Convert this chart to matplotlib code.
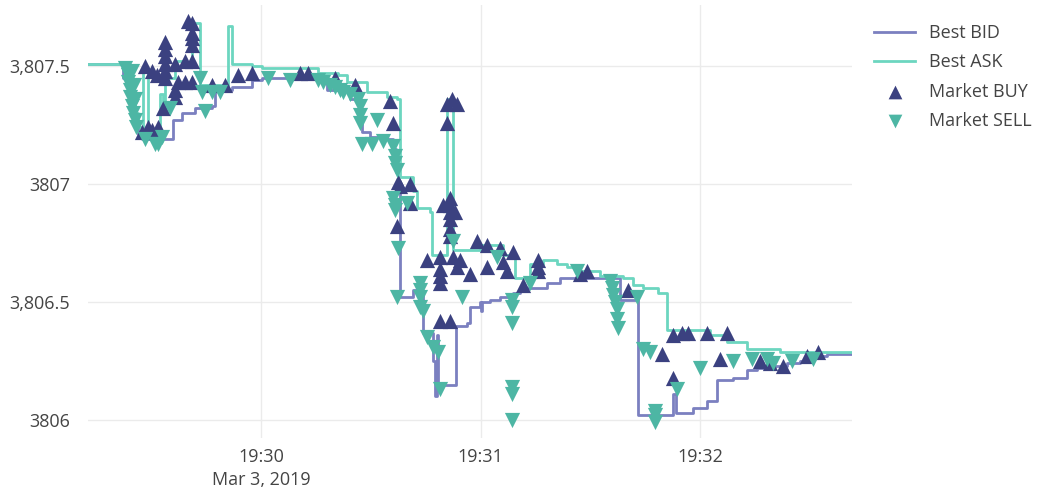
import numpy as np
import pandas as pd
import matplotlib
matplotlib.use('Agg')
import matplotlib.pyplot as plt

# times are seconds after 2019-03-03 19:29:00
base = pd.Timestamp('2019-03-03 19:29:00')

bid_t = [12.7, 22.3, 23.6, 24.2, 25.0, 25.6, 26.4, 27.5, 35.9, 38.4, 42.0, 46.6, 47.4,
         52.1, 57.5, 60.3, 70.1, 76.9, 78.0, 84.3, 87.1, 87.6, 89.8, 94.4, 96.1, 97.0,
         97.4, 98.0, 101.5, 104.3, 107.0, 107.6, 108.1, 108.4, 109.5, 113.3, 116.3, 117.1,
         119.8, 120.0, 120.5, 122.6, 125.3, 128.9, 130.8, 138.2, 141.7, 158.1, 163.1,
         172.6, 173.5, 178.1, 181.9, 184.6, 189.0, 192.8, 195.6, 198.3, 203.8, 207.3,
         210.9, 214.7, 221.8]
bid_p = [3807.51, 3807.45, 3807.40, 3807.35, 3807.30, 3807.25, 3807.21, 3807.19, 3807.27,
         3807.30, 3807.32, 3807.33, 3807.40, 3807.41, 3807.44, 3807.45, 3807.46, 3807.44,
         3807.40, 3807.36, 3807.28, 3807.22, 3807.20, 3807.19, 3807.15, 3807.05, 3806.98,
         3806.52, 3806.55, 3806.37, 3806.25, 3806.10, 3806.36, 3806.14, 3806.15, 3806.40,
         3806.41, 3806.48, 3806.50, 3806.46, 3806.50, 3806.51, 3806.52, 3806.54, 3806.56,
         3806.58, 3806.60, 3806.51, 3806.02, 3806.11, 3806.03, 3806.05, 3806.08, 3806.17,
         3806.18, 3806.21, 3806.22, 3806.23, 3806.24, 3806.25, 3806.27, 3806.28, 3806.28]

ask_t = [12.7, 22.8, 24.2, 25.6, 26.4, 27.7, 29.1, 32.4, 33.2, 33.8, 36.5, 39.2, 41.1,
         43.3, 51.0, 52.1, 57.5, 60.3, 75.6, 81.0, 83.5, 89.0, 94.4, 97.2, 98.0, 101.5,
         102.6, 106.2, 106.7, 110.8, 112.5, 119.8, 126.1, 129.4, 133.5, 137.1, 140.9,
         143.6, 147.2, 152.7, 158.9, 161.7, 164.4, 168.5, 171.0, 182.7, 187.4, 192.8,
         201.9, 221.8]
ask_p = [3807.51, 3807.45, 3807.38, 3807.30, 3807.24, 3807.48, 3807.23, 3807.38, 3807.30,
         3807.45, 3807.52, 3807.50, 3807.68, 3807.42, 3807.67, 3807.51, 3807.50, 3807.49,
         3807.47, 3807.46, 3807.43, 3807.39, 3807.37, 3807.36, 3807.03, 3806.97, 3806.90,
         3806.88, 3806.70, 3807.36, 3806.72, 3806.74, 3806.70, 3806.60, 3806.66, 3806.68,
         3806.66, 3806.65, 3806.63, 3806.61, 3806.60, 3806.57, 3806.56, 3806.54, 3806.38,
         3806.36, 3806.33, 3806.30, 3806.29, 3806.29]

buy_t = [41.1, 41.1, 41.1, 41.1, 40.0, 33.8, 33.8, 33.8, 33.8, 33.8, 33.8, 28.3, 30.2,
         31.6, 36.5, 39.2, 41.1, 37.3, 36.5, 36.5, 39.2, 41.1, 27.5, 30.2, 31.8, 29.0,
         33.2, 46.6, 50.2, 53.7, 57.5,
         70.7, 72.8, 80.2, 85.7, 95.3, 96.1, 97.4, 100.7, 100.7, 97.2, 110.8, 113.6, 112.2,
         110.8, 111.7, 111.7, 111.7, 111.7, 111.7, 111.7, 109.7, 113.0, 105.4, 108.9,
         112.5, 114.4, 108.9, 108.9, 108.9, 113.6, 117.1, 119.0, 121.8, 125.3, 121.8,
         126.1, 128.9, 127.2, 131.6, 135.7, 135.7, 135.7, 149.1, 147.2, 108.9, 111.7, 98.0,
         160.3, 172.6, 176.7, 181.9, 175.1, 187.4, 169.6, 172.6, 185.5, 196.4, 199.1,
         202.7, 209.3, 212.3]
buy_p = [3807.68, 3807.64, 3807.62, 3807.59, 3807.69, 3807.60, 3807.57, 3807.54, 3807.51,
         3807.48, 3807.45, 3807.50, 3807.48, 3807.46, 3807.51, 3807.52, 3807.52, 3807.43,
         3807.40, 3807.37, 3807.43, 3807.43, 3807.22, 3807.23, 3807.24, 3807.24, 3807.32,
         3807.42, 3807.42, 3807.46, 3807.47,
         3807.47, 3807.47, 3807.45, 3807.42, 3807.35, 3807.26, 3807.01, 3807.00, 3806.92,
         3806.82, 3807.34, 3807.34, 3807.36, 3807.26, 3806.94, 3806.91, 3806.88, 3806.85,
         3806.81, 3806.78, 3806.91, 3806.88, 3806.68, 3806.69, 3806.69, 3806.68, 3806.64,
         3806.61, 3806.58, 3806.65, 3806.62, 3806.76, 3806.74, 3806.73, 3806.65, 3806.67,
         3806.71, 3806.63, 3806.57, 3806.68, 3806.65, 3806.63, 3806.63, 3806.62, 3806.42,
         3806.42, 3806.99,
         3806.55, 3806.36, 3806.37, 3806.37, 3806.37, 3806.37, 3806.28, 3806.18, 3806.26,
         3806.25, 3806.24, 3806.23, 3806.27, 3806.29]

sell_t = [22.8, 23.6, 23.6, 24.2, 24.2, 24.7, 25.0, 25.6, 25.9, 24.7, 25.3, 25.6, 28.3,
          31.8, 32.9, 31.0, 35.1, 43.3, 43.9, 44.7, 46.6, 48.8,
          61.9, 67.9, 75.6, 76.9, 78.9, 80.2, 81.6, 82.4, 84.3, 86.5, 87.1, 87.1, 87.1,
          87.6, 90.3, 93.3, 91.7, 96.1, 96.6, 96.6, 97.2, 96.1, 99.9, 96.6, 96.6, 97.4,
          103.5, 103.5, 103.5, 103.5, 112.5, 124.5, 97.2, 104.3, 105.4, 107.0, 108.4,
          108.9, 114.9, 128.6, 128.6, 128.6, 128.6, 128.6, 128.6, 133.5, 146.4,
          155.4, 156.0, 156.2, 156.8, 157.3, 157.3, 157.6, 162.8, 164.4, 166.3, 167.7,
          167.7, 167.7, 173.7, 180.0, 189.0, 194.2, 198.3, 200.0, 205.2, 210.9]
sell_p = [3807.49, 3807.46, 3807.43, 3807.40, 3807.37, 3807.33, 3807.30, 3807.27, 3807.24,
          3807.48, 3807.42, 3807.36, 3807.19, 3807.17, 3807.20, 3807.17, 3807.32, 3807.45,
          3807.39, 3807.31, 3807.39, 3807.39,
          3807.45, 3807.44, 3807.44, 3807.43, 3807.42, 3807.41, 3807.40, 3807.39, 3807.38,
          3807.36, 3807.33, 3807.29, 3807.26, 3807.17, 3807.17, 3807.18, 3807.27, 3807.16,
          3807.12, 3807.09, 3807.06, 3806.94, 3806.92, 3806.91, 3806.89, 3806.73,
          3806.58, 3806.55, 3806.52, 3806.48, 3806.76, 3806.69, 3806.52, 3806.46, 3806.35,
          3806.31, 3806.29, 3806.13, 3806.52, 3806.51, 3806.48, 3806.41, 3806.14, 3806.11,
          3806.00, 3806.58, 3806.63,
          3806.59, 3806.56, 3806.53, 3806.50, 3806.47, 3806.43, 3806.39, 3806.52, 3806.30,
          3806.29, 3806.04, 3806.02, 3805.99, 3806.13, 3806.22, 3806.25, 3806.26, 3806.26,
          3806.24, 3806.25, 3806.26]

def to_time(secs):
    return base + pd.to_timedelta(np.array(secs), unit='s')

plt.rcParams['font.family'] = ['Open Sans', 'DejaVu Sans']

fig = plt.figure(figsize=(10.6, 4.92), dpi=100)
ax = fig.add_axes([88/1060, 54/492, (852-88)/1060, (487-54)/492])

ax.step(to_time(bid_t), bid_p, where='post', color='#7b80c0', lw=2, label='Best BID', zorder=2)
ax.step(to_time(ask_t), ask_p, where='post', color='#6cd6c0', lw=2, label='Best ASK', zorder=2)
ax.scatter(to_time(buy_t), buy_p, marker='^', s=120, color='#3b4180', linewidths=0,
           label='Market BUY', zorder=3)
ax.scatter(to_time(sell_t), sell_p, marker='v', s=120, color='#4db6a4', linewidths=0,
           label='Market SELL', zorder=4)

ax.set_xlim(to_time([12.7])[0], to_time([221.5])[0])
ax.set_ylim(3805.924, 3807.758)

ax.set_yticks([3806, 3806.5, 3807, 3807.5])
ax.set_yticklabels(['3806', '3,806.5', '3807', '3,807.5'])
ax.set_xticks(to_time([60, 120, 180]))
ax.set_xticklabels(['19:30\nMar 3, 2019', '19:31', '19:32'])

ax.grid(True, color='#ebebeb', lw=1)
ax.set_axisbelow(True)
for s in ax.spines.values():
    s.set_visible(False)
ax.tick_params(axis='y', length=0, labelsize=13, colors='#444444', pad=13)
ax.tick_params(axis='x', length=0, labelsize=13, colors='#444444', pad=7)
for lab in ax.get_xticklabels():
    lab.set_linespacing(1.4)

leg = ax.legend(loc='upper left', bbox_to_anchor=(1.012, 0.985), frameon=False,
                fontsize=13, handlelength=2.3, handletextpad=0.75, labelspacing=0.62,
                borderaxespad=0.3, markerscale=0.9)
for t in leg.get_texts():
    t.set_color('#444444')

fig.savefig('out.png', dpi=100)
